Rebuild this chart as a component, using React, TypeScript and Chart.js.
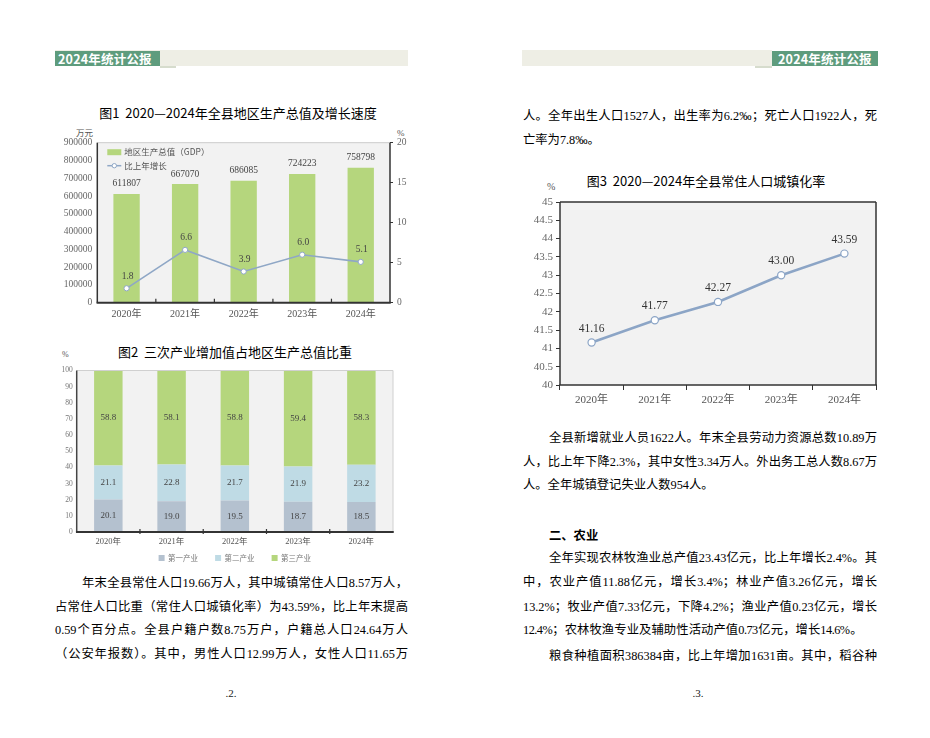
import React, { useEffect, useRef } from "react";
import { Chart, registerables } from "chart.js";

Chart.register(...registerables);

// ---------- data ----------
const YEARS = ["2020年", "2021年", "2022年", "2023年", "2024年"];
const GDP = [611807, 667070, 686085, 724223, 758798];
const GDP_GROWTH = [1.8, 6.6, 3.9, 6.0, 5.1];
const INDUSTRY_NAMES = ["第一产业", "第二产业", "第三产业"];
const PRIMARY = [20.1, 19.0, 19.5, 18.7, 18.5];
const SECONDARY = [21.1, 22.8, 21.7, 21.9, 23.2];
const TERTIARY = [58.8, 58.1, 58.8, 59.4, 58.3];
const URBAN_RATE = [41.16, 41.77, 42.27, 43.0, 43.59];

const SERIF = '"Liberation Serif", "Noto Sans CJK SC"';
const SANS = '"Noto Sans CJK SC", "Noto Sans"';

type Side = [string, number];

function framePlugin(o: {
  bg: string;
  top?: Side;
  right?: Side;
  left: Side;
  bottom: Side;
  ticks?: { up: number; down: number };
}) {
  return {
    id: "frame",
    beforeDraw(chart: any) {
      const { ctx, chartArea: a } = chart;
      ctx.save();
      ctx.fillStyle = o.bg;
      ctx.fillRect(a.left, a.top, a.right - a.left, a.bottom - a.top);
      ctx.restore();
    },
    afterDatasetsDraw(chart: any) {
      const { ctx, chartArea: a } = chart;
      const seg = (x1: number, y1: number, x2: number, y2: number, s: Side) => {
        ctx.strokeStyle = s[0];
        ctx.lineWidth = s[1];
        ctx.beginPath();
        ctx.moveTo(x1, y1);
        ctx.lineTo(x2, y2);
        ctx.stroke();
      };
      ctx.save();
      if (o.top) seg(a.left, a.top, a.right, a.top, o.top);
      if (o.right) seg(a.right, a.top, a.right, a.bottom, o.right);
      seg(a.left, a.top, a.left, a.bottom, o.left);
      seg(a.left - 0.75, a.bottom, a.right + 0.75, a.bottom, o.bottom);
      if (o.ticks) {
        const xs = chart.scales.x;
        const n = chart.data.labels.length;
        for (let i = 1; i < n; i++) {
          const x = (xs.getPixelForValue(i - 1) + xs.getPixelForValue(i)) / 2;
          seg(x, a.bottom - o.ticks.up, x, a.bottom + o.ticks.down, [o.bottom[0], 1.2]);
        }
      }
      ctx.restore();
    },
  };
}

// ---------- chart configs ----------
function gdpConfig(): any {
  const labels = {
    id: "gdpLabels",
    afterDatasetsDraw(chart: any) {
      const ctx = chart.ctx;
      ctx.save();
      ctx.font = `9.5px ${SERIF}`;
      ctx.fillStyle = "#444";
      ctx.textAlign = "center";
      ctx.textBaseline = "middle";
      const bars = chart.getDatasetMeta(1);
      bars.data.forEach((el: any, i: number) =>
        ctx.fillText(String(chart.data.datasets[1].data[i]), el.x, el.y - 10)
      );
      const pts = chart.getDatasetMeta(0);
      pts.data.forEach((el: any, i: number) =>
        ctx.fillText(Number(chart.data.datasets[0].data[i]).toFixed(1), el.x + 1, el.y - 12)
      );
      ctx.restore();
    },
  };
  const legend = {
    id: "gdpLegend",
    afterDraw(chart: any) {
      const { ctx, chartArea: a } = chart;
      const x0 = a.left + 10;
      const y1 = a.top + 9.5;
      const y2 = a.top + 23;
      ctx.save();
      ctx.fillStyle = "#b5d67d";
      ctx.fillRect(x0, y1 - 3, 14, 6);
      ctx.strokeStyle = "#8fa7c6";
      ctx.lineWidth = 1.5;
      ctx.beginPath();
      ctx.moveTo(x0, y2);
      ctx.lineTo(x0 + 14, y2);
      ctx.stroke();
      ctx.fillStyle = "#fff";
      ctx.lineWidth = 1;
      ctx.beginPath();
      ctx.arc(x0 + 7, y2, 2.2, 0, Math.PI * 2);
      ctx.fill();
      ctx.stroke();
      ctx.font = `8.5px ${SANS}`;
      ctx.fillStyle = "#555";
      ctx.textBaseline = "middle";
      ctx.fillText(chart.data.datasets[1].label, x0 + 17, y1);
      ctx.fillText(chart.data.datasets[0].label, x0 + 17, y2);
      ctx.restore();
    },
  };
  const tickFont = { family: SERIF, size: 9.5 };
  return {
    type: "bar",
    data: {
      labels: YEARS,
      datasets: [
        {
          type: "line",
          label: "比上年增长",
          data: GDP_GROWTH,
          yAxisID: "y1",
          borderColor: "#8fa7c6",
          borderWidth: 1.6,
          pointRadius: 2.6,
          pointBackgroundColor: "#ffffff",
          pointBorderColor: "#8fa7c6",
          pointBorderWidth: 1,
          tension: 0,
          order: 0,
        },
        {
          type: "bar",
          label: "地区生产总值（GDP）",
          data: GDP,
          yAxisID: "y",
          backgroundColor: "#b5d67d",
          barPercentage: 0.45,
          categoryPercentage: 1,
          order: 1,
        },
      ],
    },
    options: {
      responsive: false,
      animation: false,
      layout: { padding: { top: 17.7, left: 0, right: 0, bottom: 0 } },
      plugins: { legend: { display: false }, tooltip: { enabled: false } },
      scales: {
        x: {
          grid: { display: false, drawTicks: false },
          border: { display: false },
          ticks: { font: { family: SERIF, size: 10 }, color: "#555", padding: 6 },
          afterFit: (s: any) => {
            s.height = 22.3;
          },
        },
        y: {
          position: "left",
          min: 0,
          max: 900000,
          grid: { display: false, drawTicks: false },
          border: { display: false },
          ticks: { stepSize: 100000, font: tickFont, color: "#666", padding: 5, callback: (v: any) => String(v) },
          afterFit: (s: any) => {
            s.width = 52.3;
          },
        },
        y1: {
          position: "right",
          min: 0,
          max: 20,
          grid: { display: true, drawOnChartArea: false, drawTicks: true, tickLength: 3, color: "#333" },
          border: { display: false },
          ticks: { stepSize: 5, font: tickFont, color: "#666", padding: 4, callback: (v: any) => String(v) },
          afterFit: (s: any) => {
            s.width = 30;
          },
        },
      },
    },
    plugins: [
      framePlugin({
        bg: "#f2f2f2",
        top: ["#cccccc", 1],
        right: ["#333333", 1.5],
        left: ["#333333", 1.5],
        bottom: ["#333333", 2],
        ticks: { up: 4, down: 0 },
      }),
      labels,
      legend,
    ],
  };
}

function shareConfig(): any {
  const colors = ["#b4c1cf", "#bfdbe5", "#b5d67d"];
  const labels = {
    id: "shareLabels",
    afterDatasetsDraw(chart: any) {
      const ctx = chart.ctx;
      ctx.save();
      ctx.font = `9px ${SERIF}`;
      ctx.fillStyle = "#444";
      ctx.textAlign = "center";
      ctx.textBaseline = "middle";
      chart.data.datasets.forEach((ds: any, di: number) => {
        chart.getDatasetMeta(di).data.forEach((el: any, i: number) => {
          ctx.fillText(Number(ds.data[i]).toFixed(1), el.x, (el.y + el.base) / 2);
        });
      });
      ctx.restore();
    },
  };
  const legend = {
    id: "shareLegend",
    afterDraw(chart: any) {
      const { ctx, chartArea: a } = chart;
      ctx.save();
      ctx.font = `7.5px ${SANS}`;
      const box = 6;
      const gapIn = 3.5;
      const gap = 17;
      const items = chart.data.datasets.map((d: any) => ({
        label: d.label,
        color: d.backgroundColor,
        w: box + gapIn + ctx.measureText(d.label).width,
      }));
      const total = items.reduce((s: number, it: any) => s + it.w, 0) + gap * (items.length - 1);
      let x = (a.left + a.right) / 2 - total / 2;
      const y = a.bottom + 26;
      ctx.textBaseline = "middle";
      items.forEach((it: any) => {
        ctx.fillStyle = it.color;
        ctx.fillRect(x, y - box / 2, box, box);
        ctx.fillStyle = "#777";
        ctx.fillText(it.label, x + box + gapIn, y);
        x += it.w + gap;
      });
      ctx.restore();
    },
  };
  const series = [PRIMARY, SECONDARY, TERTIARY];
  return {
    type: "bar",
    data: {
      labels: YEARS,
      datasets: series.map((d, i) => ({
        label: INDUSTRY_NAMES[i],
        data: d,
        backgroundColor: colors[i],
        barPercentage: 0.45,
        categoryPercentage: 1,
      })),
    },
    options: {
      responsive: false,
      animation: false,
      layout: { padding: { top: 7, right: 22, left: 0, bottom: 0 } },
      plugins: { legend: { display: false }, tooltip: { enabled: false } },
      scales: {
        x: {
          stacked: true,
          grid: { display: false, drawTicks: false },
          border: { display: false },
          ticks: { font: { family: SERIF, size: 8.5 }, color: "#555", padding: 5 },
          afterFit: (s: any) => {
            s.height = 36;
          },
        },
        y: {
          stacked: true,
          min: 0,
          max: 100,
          grid: { display: false, drawTicks: false },
          border: { display: false },
          ticks: { stepSize: 10, font: { family: SERIF, size: 7.5 }, color: "#777", padding: 4 },
          afterFit: (s: any) => {
            s.width = 31.7;
          },
        },
      },
    },
    plugins: [
      framePlugin({
        bg: "#f2f2f2",
        top: ["#d0d0d0", 1],
        right: ["#d0d0d0", 1],
        left: ["#444444", 1.5],
        bottom: ["#333333", 2],
        ticks: { up: 3, down: 2 },
      }),
      labels,
      legend,
    ],
  };
}

function urbanConfig(): any {
  const labels = {
    id: "urbanLabels",
    afterDatasetsDraw(chart: any) {
      const ctx = chart.ctx;
      ctx.save();
      ctx.font = `11.5px ${SERIF}`;
      ctx.fillStyle = "#333";
      ctx.textAlign = "center";
      ctx.textBaseline = "middle";
      chart.getDatasetMeta(0).data.forEach((el: any, i: number) => {
        ctx.fillText(Number(chart.data.datasets[0].data[i]).toFixed(2), el.x, el.y - 14);
      });
      ctx.restore();
    },
  };
  return {
    type: "line",
    data: {
      labels: YEARS,
      datasets: [
        {
          label: "常住人口城镇化率",
          data: URBAN_RATE,
          borderColor: "#8ca5c6",
          borderWidth: 2.6,
          pointRadius: 3.6,
          pointBackgroundColor: "#ffffff",
          pointBorderColor: "#8ca5c6",
          pointBorderWidth: 1.2,
          tension: 0,
        },
      ],
    },
    options: {
      responsive: false,
      animation: false,
      layout: { padding: { top: 10, right: 9, left: 0, bottom: 0 } },
      plugins: { legend: { display: false }, tooltip: { enabled: false } },
      scales: {
        x: {
          offset: true,
          grid: { display: true, drawOnChartArea: false, drawTicks: true, tickLength: 5, color: "#333", offset: true },
          border: { display: false },
          ticks: { font: { family: SERIF, size: 11 }, color: "#555", padding: 4 },
          afterFit: (s: any) => {
            s.height = 27;
          },
        },
        y: {
          min: 40,
          max: 45,
          grid: { display: true, drawOnChartArea: false, drawTicks: true, tickLength: 4, color: "#333" },
          border: { display: false },
          ticks: {
            stepSize: 0.5,
            font: { family: SERIF, size: 11 },
            color: "#666",
            padding: 3,
            callback: (v: any) => String(Math.round(Number(v) * 10) / 10),
          },
          afterFit: (s: any) => {
            s.width = 45;
          },
        },
      },
    },
    plugins: [
      framePlugin({
        bg: "#f2f2f2",
        top: ["#333333", 1.5],
        right: ["#333333", 1.5],
        left: ["#333333", 1.5],
        bottom: ["#333333", 1.5],
      }),
      labels,
    ],
  };
}

// ---------- components ----------
function ChartBox(props: { left: number; top: number; width: number; height: number; make: () => any }) {
  const ref = useRef<HTMLCanvasElement>(null);
  useEffect(() => {
    const c = new Chart(ref.current as HTMLCanvasElement, props.make());
    return () => c.destroy();
  }, []);
  return (
    <canvas
      ref={ref}
      width={props.width}
      height={props.height}
      style={{ position: "absolute", left: props.left, top: props.top, width: props.width, height: props.height }}
    />
  );
}

const BODY_FONT = SERIF;

function TextLine(props: { x: number; y: number; w: number; text: string; justify?: boolean; bold?: boolean; ls?: number }) {
  return (
    <div
      style={{
        position: "absolute",
        left: props.x,
        top: props.y - 12,
        width: props.w,
        height: 24,
        lineHeight: "24px",
        fontSize: 12.3,
        fontFamily: props.bold ? SANS : BODY_FONT,
        fontWeight: props.bold ? 700 : 400,
        color: "#000",
        textAlign: props.justify ? "justify" : "left",
        textAlignLast: props.justify ? "justify" : "left",
        whiteSpace: "nowrap",
        letterSpacing: props.ls ?? 0,
      }}
    >
      {props.text}
    </div>
  );
}

function Abs(props: { x: number; y: number; w?: number; h?: number; style?: any; children?: any }) {
  return (
    <div style={{ position: "absolute", left: props.x, top: props.y, width: props.w, height: props.h, ...props.style }}>
      {props.children}
    </div>
  );
}

function Title(props: { cx: number; cy: number; text: string }) {
  return (
    <Abs
      x={props.cx - 200}
      y={props.cy - 10}
      w={400}
      h={20}
      style={{ textAlign: "center", lineHeight: "20px", fontSize: 13, fontFamily: SANS, fontWeight: 400, color: "#000", whiteSpace: "pre" }}
    >
      {props.text}
    </Abs>
  );
}

function Unit(props: { x: number; cy: number; text: string; size?: number }) {
  return (
    <Abs
      x={props.x}
      y={props.cy - 7}
      h={14}
      style={{ lineHeight: "14px", fontSize: props.size ?? 9, fontFamily: SERIF, color: "#555", whiteSpace: "nowrap" }}
    >
      {props.text}
    </Abs>
  );
}

const GREEN = "#5e9c7d";
const BEIGE = "#eeeee5";
const headerText: any = {
  color: "#fff",
  fontFamily: SANS,
  fontWeight: 700,
  fontSize: 12.5,
  lineHeight: "15px",
  whiteSpace: "nowrap",
  letterSpacing: 0.2,
};

export default function App() {
  return (
    <div style={{ position: "absolute", left: 0, top: 0, width: 930, height: 738, background: "#fff", overflow: "hidden" }}>
      {/* left header */}
      <Abs x={55} y={50} w={353} h={16} style={{ background: BEIGE }} />
      <Abs x={55} y={51} w={105} h={15} style={{ background: GREEN, ...headerText, paddingLeft: 3, boxSizing: "border-box" }}>
        2024年统计公报
      </Abs>
      <Abs x={160} y={66} w={16} h={1.5} style={{ background: "#d6dccd" }} />

      {/* right header */}
      <Abs x={522} y={50} w={250} h={16} style={{ background: BEIGE }} />
      <Abs x={772} y={51} w={106} h={15} style={{ background: GREEN, ...headerText, paddingLeft: 6, boxSizing: "border-box" }}>
        2024年统计公报
      </Abs>
      <Abs x={755} y={66} w={17} h={1.5} style={{ background: "#d6dccd" }} />

      {/* chart 1 */}
      <Title cx={238} cy={113} text="图1  2020—2024年全县地区生产总值及增长速度" />
      <Unit x={76} cy={133} text="万元" size={8.5} />
      <Unit x={397} cy={133} text="%" size={9} />
      <ChartBox left={45} top={125} width={375} height={200} make={gdpConfig} />

      {/* chart 2 */}
      <Title cx={235} cy={352} text="图2  三次产业增加值占地区生产总值比重" />
      <Unit x={62} cy={355} text="%" size={8} />
      <ChartBox left={45} top={362} width={370} height={206} make={shareConfig} />

      {/* left text */}
      <TextLine x={82} y={583} w={326} justify text="年末全县常住人口19.66万人，其中城镇常住人口8.57万人，" />
      <TextLine x={55} y={607} w={353} justify text="占常住人口比重（常住人口城镇化率）为43.59%，比上年末提高" />
      <TextLine x={55} y={630} w={353} justify text="0.59个百分点。全县户籍户数8.75万户，户籍总人口24.64万人" />
      <TextLine x={55} y={654} w={353} justify text="（公安年报数）。其中，男性人口12.99万人，女性人口11.65万" />
      <Abs x={201} y={686} w={60} h={14} style={{ textAlign: "center", fontFamily: SERIF, fontSize: 11, lineHeight: "14px", color: "#222" }}>
        .2.
      </Abs>

      {/* right text top */}
      <TextLine x={523} y={116} w={354} justify text="人。全年出生人口1527人，出生率为6.2‰；死亡人口1922人，死" />
      <TextLine x={523} y={140} w={354} text="亡率为7.8‰。" />

      {/* chart 3 */}
      <Title cx={706} cy={181} text="图3  2020—2024年全县常住人口城镇化率" />
      <Unit x={547} cy={187} text="%" size={10} />
      <ChartBox left={515} top={192} width={370} height={220} make={urbanConfig} />

      {/* right text bottom */}
      <TextLine x={549} y={438} w={328} justify text="全县新增就业人员1622人。年末全县劳动力资源总数10.89万" />
      <TextLine x={523} y={462} w={354} justify text="人，比上年下降2.3%，其中女性3.34万人。外出务工总人数8.67万" />
      <TextLine x={523} y={485} w={354} text="人。全年城镇登记失业人数954人。" />
      <TextLine x={549} y={535} w={200} bold text="二、农业" />
      <TextLine x={549} y={558} w={328} justify text="全年实现农林牧渔业总产值23.43亿元，比上年增长2.4%。其" />
      <TextLine x={523} y={582} w={354} justify text="中，农业产值11.88亿元，增长3.4%；林业产值3.26亿元，增长" />
      <TextLine x={523} y={607} w={354} justify text="13.2%；牧业产值7.33亿元，下降4.2%；渔业产值0.23亿元，增长" />
      <TextLine x={523} y={630} w={339} justify ls={-0.5} text="12.4%；农林牧渔专业及辅助性活动产值0.73亿元，增长14.6%。" />
      <TextLine x={549} y={656} w={328} justify text="粮食种植面积386384亩，比上年增加1631亩。其中，稻谷种" />
      <Abs x={668} y={686} w={60} h={14} style={{ textAlign: "center", fontFamily: SERIF, fontSize: 11, lineHeight: "14px", color: "#222" }}>
        .3.
      </Abs>
    </div>
  );
}
